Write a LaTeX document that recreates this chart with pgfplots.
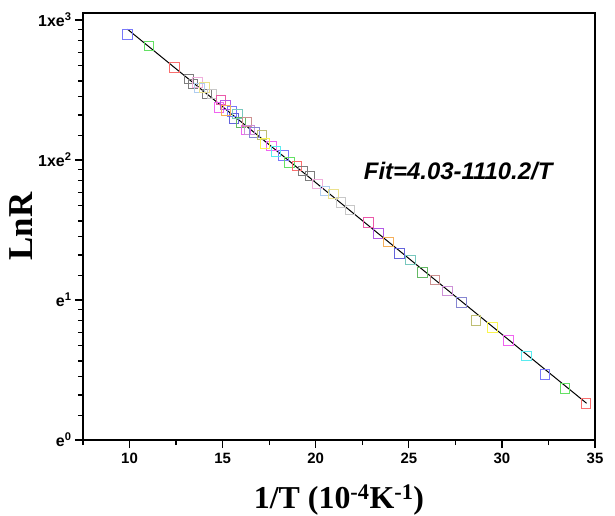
\documentclass[border=0pt]{standalone}
\usepackage{fontspec}
\setmainfont{Liberation Serif}
\newfontfamily\arial{Liberation Sans}
\usepackage{pgfplots}
\pgfplotsset{compat=1.18}
\usetikzlibrary{calc}

\definecolor{cBlue}{RGB}{120,120,250}
\definecolor{cBlueD}{RGB}{100,100,220}
\definecolor{cGreen}{RGB}{100,225,100}
\definecolor{cGreenD}{RGB}{100,185,100}
\definecolor{cRed}{RGB}{250,110,110}
\definecolor{cGray}{RGB}{125,125,125}
\definecolor{cPink}{RGB}{240,175,220}
\definecolor{cLBlue}{RGB}{175,205,240}
\definecolor{cLYellow}{RGB}{235,225,140}
\definecolor{cLGray}{RGB}{200,200,200}
\definecolor{cHotPink}{RGB}{235,90,170}
\definecolor{cMagenta}{RGB}{240,100,240}
\definecolor{cPurple}{RGB}{180,90,230}
\definecolor{cOrange}{RGB}{245,175,90}
\definecolor{cTeal}{RGB}{120,200,190}
\definecolor{cRosy}{RGB}{205,145,145}
\definecolor{cOrchid}{RGB}{205,145,215}
\definecolor{cSlate}{RGB}{135,135,210}
\definecolor{cOlive}{RGB}{190,190,115}
\definecolor{cYellow}{RGB}{250,245,80}
\definecolor{cCyan}{RGB}{90,235,240}

\pgfplotsset{sq/.style={only marks, mark=square, mark size=4.8bp,
  mark options={line width=1bp, draw=#1, fill=none}}}

\begin{document}
\begin{tikzpicture}
\begin{axis}[
  scale only axis,
  width=512bp, height=427bp,
  xmin=7.5, xmax=35,
  ymin=0, ymax=3.05,
  xtick={10,15,20,25,30,35},
  minor xtick={7.5,12.5,17.5,22.5,27.5,32.5},
  ytick={0,1,2,3},
  yticklabels={e\textsuperscript{0},e\textsuperscript{1},1xe\textsuperscript{2},1xe\textsuperscript{3}},
  minor ytick={0.174,0.321,0.452,0.564,0.674,0.769,0.852,0.933,
               1.174,1.321,1.452,1.564,1.674,1.769,1.852,1.933,
               2.174,2.321,2.452,2.564,2.674,2.769,2.852,2.933},
  xtick pos=bottom, ytick pos=left,
  tick align=outside,
  major tick length=8bp, minor tick length=5bp,
  tick style={line width=1.3bp, black},
  axis line style={line width=1.6bp, black},
  /pgf/number format/assume math mode=true,
  xticklabel style={font=\arial\bfseries\fontsize{15}{15}\selectfont, yshift=-2bp},
  yticklabel style={font=\arial\bfseries\fontsize{16}{16}\selectfont},
  xlabel={\textbf{1/T (10\textsuperscript{-4}K\textsuperscript{-1})}},
  ylabel={\textbf{LnR}},
  xlabel style={font=\fontsize{32}{32}\selectfont, at={(axis description cs:0.5,-0.14)}, anchor=center},
  ylabel style={font=\fontsize{35}{35}\selectfont, at={(axis description cs:-0.121,0.5)}, anchor=center},
]
% data: 1/T (10^-4 K^-1) vs LnR, one plot per marker colour
\addplot[sq=cBlue]    coordinates {(9.89,2.898)(15.50,2.345)(18.27,2.031)(32.31,0.469)};
\addplot[sq=cBlueD]   coordinates {(15.62,2.298)(24.49,1.334)};
\addplot[sq=cGreen]   coordinates {(11.04,2.814)(18.59,1.981)(33.39,0.369)};
\addplot[sq=cGreenD]  coordinates {(15.98,2.269)(25.75,1.198)};
\addplot[sq=cRed]     coordinates {(12.40,2.659)(18.99,1.957)(34.51,0.262)};
\addplot[sq=cGray]    coordinates {(13.20,2.579)(13.40,2.543)(14.15,2.471)(19.31,1.921)(19.70,1.886)};
\addplot[sq=cPink]    coordinates {(13.65,2.555)(20.09,1.829)};
\addplot[sq=cLBlue]   coordinates {(13.76,2.514)(20.50,1.779)};
\addplot[sq=cLYellow] coordinates {(14.03,2.516)(20.95,1.757)};
\addplot[sq=cLGray]   coordinates {(14.42,2.471)(21.36,1.695)(21.85,1.643)};
\addplot[sq=cHotPink] coordinates {(14.91,2.429)(22.83,1.555)};
\addplot[sq=cMagenta] coordinates {(14.80,2.376)(16.25,2.214)(17.64,2.100)(30.34,0.709)};
\addplot[sq=cPurple]  coordinates {(15.14,2.393)(23.37,1.476)};
\addplot[sq=cOrange]  coordinates {(15.19,2.352)(23.90,1.414)};
\addplot[sq=cTeal]    coordinates {(15.80,2.329)(25.08,1.286)};
\addplot[sq=cRosy]    coordinates {(16.30,2.271)(26.41,1.143)};
\addplot[sq=cOrchid]  coordinates {(16.44,2.214)(27.09,1.064)};
\addplot[sq=cSlate]   coordinates {(16.71,2.198)(27.84,0.984)};
\addplot[sq=cOlive]   coordinates {(17.12,2.179)(28.61,0.852)};
\addplot[sq=cYellow]  coordinates {(17.28,2.119)(29.49,0.805)};
\addplot[sq=cCyan]    coordinates {(17.87,2.059)(31.33,0.600)};
% fitted line
\addplot[black, line width=1bp, no marks] coordinates {(9.89,2.934) (34.55,0.262)};
\node[anchor=west, font=\arial\bfseries\itshape\fontsize{24}{24}\selectfont]
  at (axis cs:22.4,1.92) {Fit=4.03-1110.2/T};
\end{axis}
\pgfresetboundingbox
\path ($(current axis.south west)+(-83bp,-76bp)$) rectangle ($(current axis.north east)+(20bp,13bp)$);
\end{tikzpicture}
\end{document}
